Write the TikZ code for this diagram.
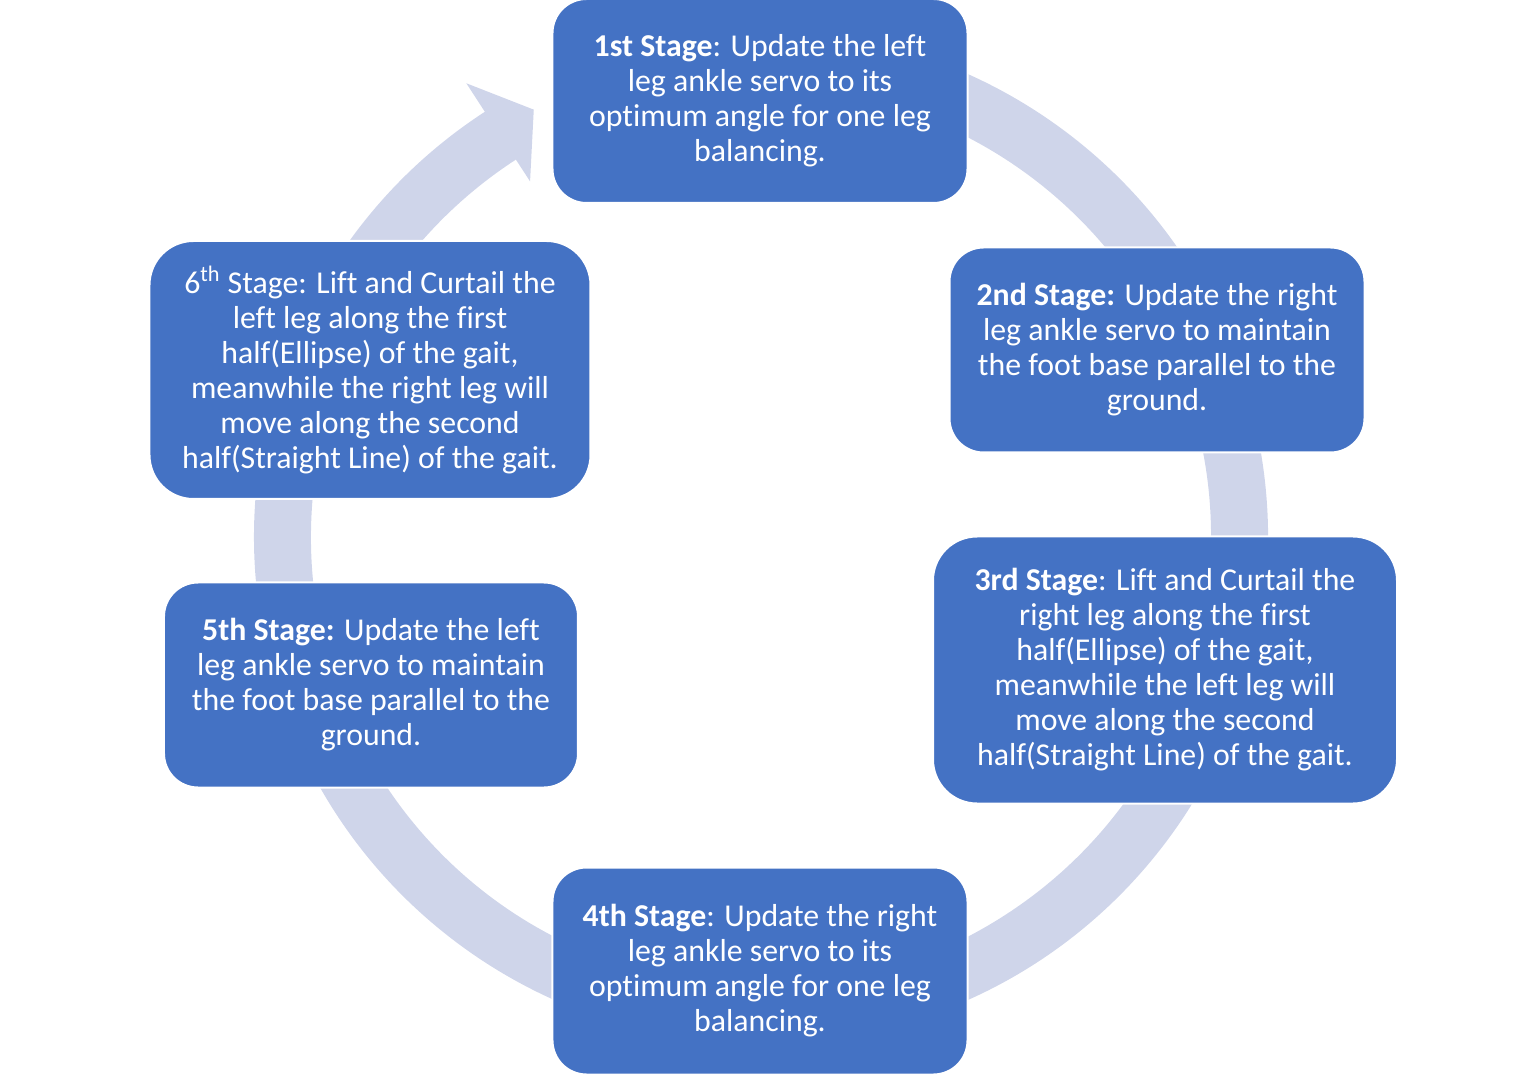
\documentclass[tikz,border=0pt]{standalone}
\usepackage{fontspec}
\setmainfont{Carlito}[Ligatures=NoCommon]
\usepackage{tikz}
\definecolor{stageblue}{HTML}{4472C4}
\definecolor{ringgray}{HTML}{CFD5EA}
\tikzset{
    stagenode/.style = {
        align=center,
        inner sep=0pt,
        text centered,
        text=white,
        font=\fontsize{15.9}{17.5}\selectfont,
        rectangle,
        rounded corners=17pt,
        fill=stageblue,
        draw=white,
        line width=1pt,
        minimum width=207.5pt,
        minimum height=102pt
    },
    bigstagenode/.style = {
        stagenode,
        rounded corners=22pt,
    }
}

\begin{document}
\begin{tikzpicture}[x=0.5pt,y=0.5pt]
    \useasboundingbox (-761,-538) rectangle (779,537);
    % ring with arrow head
    \fill [ringgray] (123:507) -- (123:541) -- (118:484) -- (123:424) -- (123:450)
        arc [start angle=123, end angle=460, radius=450] -- (460:507)
        arc [start angle=460, end angle=123, radius=507] -- cycle;
    % stages
    \node [stagenode] (stageone) at (-1,436)
        {\textbf{1st Stage}: Update the left\\ leg ankle servo to its\\ optimum angle for one leg\\ balancing.};
    \node [stagenode, minimum height=102.5pt] (stagetwo) at (396,187)
        {\textbf{2nd Stage:} Update the right\\ leg ankle servo to maintain\\ the foot base parallel to the\\ ground.};
    \node [bigstagenode, minimum width=232pt, minimum height=133.5pt] (stagethree) at (404,-133)
        {\textbf{3rd Stage}: Lift and Curtail the\\ right leg along the first\\ half(Ellipse) of the gait,\\ meanwhile the left leg will\\ move along the second\\ half(Straight Line) of the gait.};
    \node [stagenode, minimum height=103.5pt] (stagefour) at (-1,-434)
        {\textbf{4th Stage}: Update the right\\ leg ankle servo to its\\ optimum angle for one leg\\ balancing.};
    \node [stagenode, minimum width=207pt, minimum height=102.5pt] (stagefive) at (-390,-148)
        {\textbf{5th Stage:} Update the left\\ leg ankle servo to maintain\\ the foot base parallel to the\\ ground.};
    \node [bigstagenode, minimum width=220.5pt, minimum height=129pt] (stagesix) at (-391,167)
        {6\textsuperscript{th} Stage: Lift and Curtail the\\ left leg along the first\\ half(Ellipse) of the gait,\\ meanwhile the right leg will\\ move along the second\\ half(Straight Line) of the gait.};
\end{tikzpicture}
\end{document}
